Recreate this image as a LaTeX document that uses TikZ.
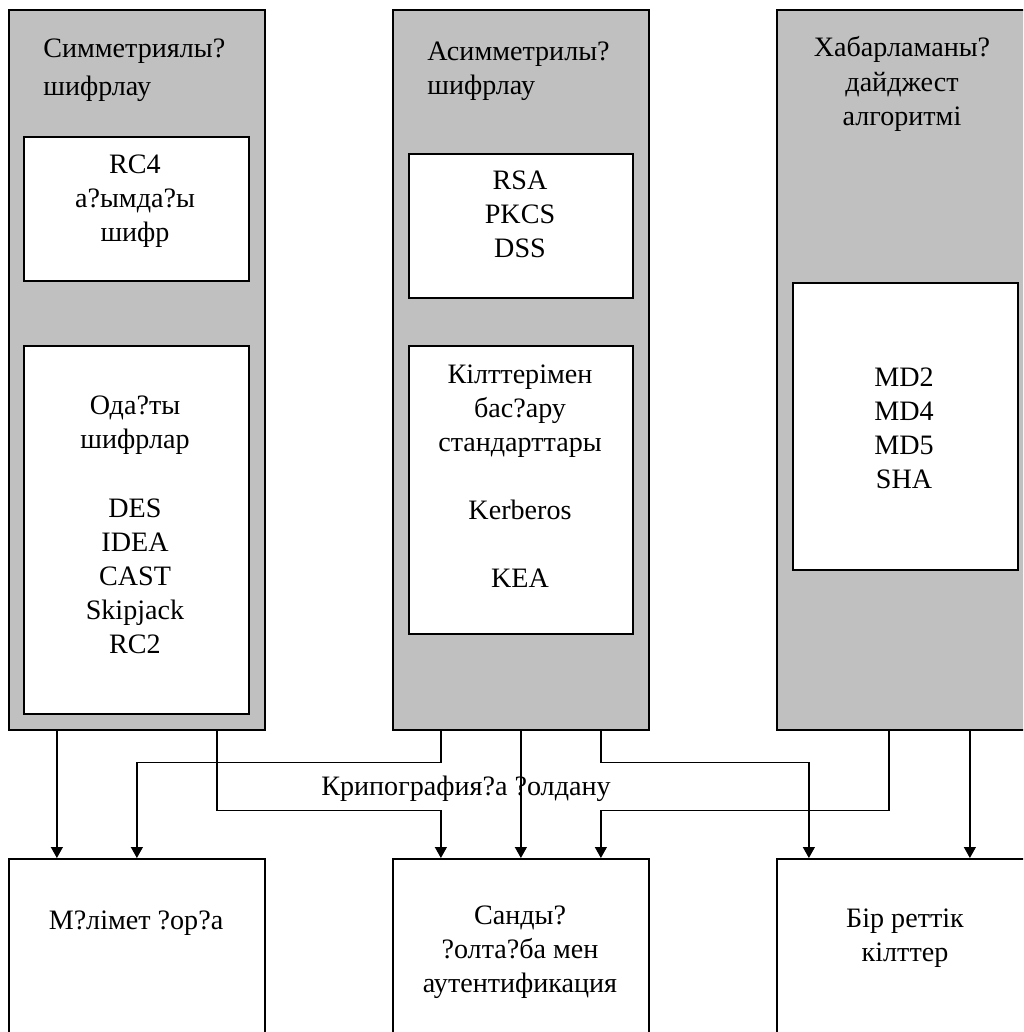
\documentclass[tikz,border=0pt]{standalone}
\usepackage{fontspec}
\setmainfont{Liberation Serif}
\usetikzlibrary{arrows.meta}
\definecolor{panelgray}{RGB}{192,192,192}

\begin{document}
\begin{tikzpicture}[x=0.2mm, y=-0.2mm,
		column/.style={draw, line width=0.35mm, fill=panelgray, anchor=north west, minimum width=51.2mm, minimum height=144mm, inner sep=0},
		inbox/.style={draw, line width=0.35mm, fill=white, anchor=north west, minimum width=45mm, inner sep=0},
		outbox/.style={draw, line width=0.35mm, fill=white, anchor=north west, minimum width=51.2mm, minimum height=40mm, inner sep=0},
		txt/.style={align=center, inner sep=0, font=\fontsize{16}{19.4}\selectfont},
		conn/.style={-{Triangle[width=2.4mm,length=2.2mm]}, line width=0.25mm}]
			\useasboundingbox (0,0) rectangle (1023,1032);
			\clip (0,0) rectangle (1023,1032);
			\node[column] (sym) at (8,9) {};
			\node[column] (asym) at (392,9) {};
			\node[column] (hash) at (776,9) {};
			\node[inbox, minimum height=28.8mm] (rcfour) at (23,136) {};
			\node[inbox, minimum height=73.6mm] (block) at (23,345) {};
			\node[inbox, minimum width=44.8mm, minimum height=28.8mm] (rsa) at (408,153) {};
			\node[inbox, minimum width=44.8mm, minimum height=57.6mm] (keymgmt) at (408,345) {};
			\node[inbox, minimum height=57.4mm] (md) at (792,282) {};
			\node[outbox] (store) at (8,858) {};
			\node[outbox] (auth) at (392,858) {};
			\node[outbox] (otp) at (776,858) {};
			\node[txt, align=left, anchor=west] (symhead) at (43,70) {Симметриялы?\\[2pt]шифрлау};
			\node[txt, align=left, anchor=west] (asymhead) at (427,71) {Асимметрилы?\\шифрлау};
			\node[txt] (hashhead) at (902,84) {Хабарламаны?\\дайджест\\алгоритмі};
			\node[txt] (rcfourtxt) at (135,201) {RC4\\а?ымда?ы\\шифр};
			\node[txt] (blocktxt) at (135,525) {Ода?ты\\шифрлар\\[19.4pt]DES\\IDEA\\CAST\\Skipjack\\RC2};
			\node[txt] (rsatxt) at (520,214) {RSA\\PKCS\\DSS};
			\node[txt] (keymgmttxt) at (520,476) {Кілттерімен\\бас?ару\\стандарттары\\[19.4pt]Kerberos\\[19.4pt]KEA};
			\node[txt] (mdtxt) at (904,428) {MD2\\MD4\\MD5\\SHA};
			\node[txt] (storetxt) at (136,923) {М?лімет ?ор?а};
			\node[txt] (authtxt) at (520,952) {Санды?\\?олта?ба мен\\аутентификация};
			\node[txt] (otptxt) at (905,938) {Бір реттік\\кілттер};
			\node[txt] (usage) at (466,789) {Крипография?а ?олдану};
			\draw[conn] ([xshift=-16mm]sym.south) -- ([xshift=-16mm]store.north);
			\draw[conn] ([xshift=-16mm]asym.south) -- ([xshift=-16mm,yshift=-6.4mm]asym.south) -| (store.north);
			\draw[conn] ([xshift=16mm]sym.south) -- ([xshift=16mm,yshift=-16mm]sym.south) -| ([xshift=-16mm]auth.north);
			\draw[conn] (asym.south) -- (auth.north);
			\draw[conn] ([xshift=16mm]asym.south) -- ([xshift=16mm,yshift=-6.4mm]asym.south) -| ([xshift=-19.2mm]otp.north);
			\draw[conn] ([xshift=-3.2mm]hash.south) -- ([xshift=-3.2mm,yshift=-16mm]hash.south) -| ([xshift=16mm]auth.north);
			\draw[conn] ([xshift=13mm]hash.south) -- ([xshift=13mm]otp.north);
		\end{tikzpicture}
\end{document}
